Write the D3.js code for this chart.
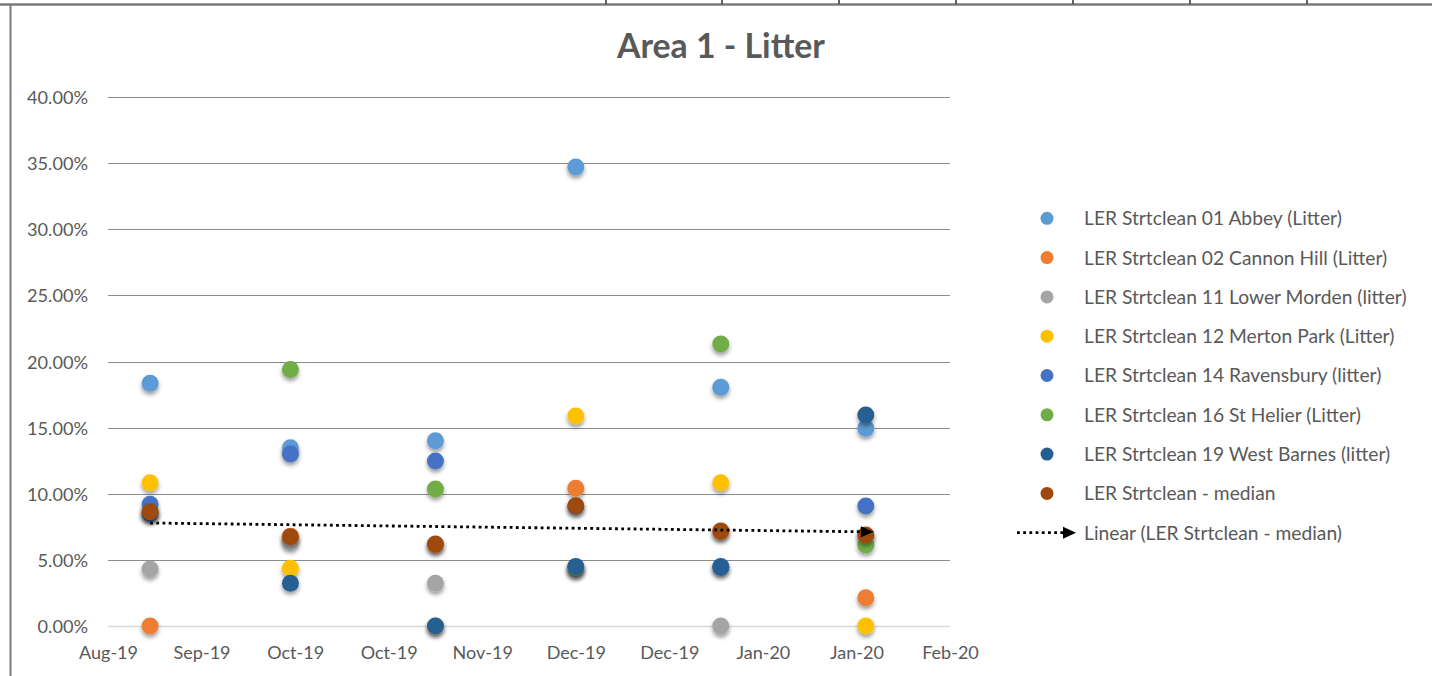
<!DOCTYPE html>
<html><head><meta charset="utf-8">
<script src="https://cdn.jsdelivr.net/npm/d3@7"></script>
<style>
body{margin:0;background:#fff;}
svg{display:block;}
text{font-family:Lato,"Open Sans",sans-serif;}
</style>
</head><body>
<svg id="chart" width="1432" height="676"></svg>
<script>
// ---------------- data ----------------
const dates = ["2019-09-01","2019-10-01","2019-11-01","2019-12-01","2020-01-01","2020-02-01"];
const seriesNames = [
  "LER Strtclean 01 Abbey (Litter)",
  "LER Strtclean 02 Cannon Hill (Litter)",
  "LER Strtclean 11 Lower Morden (litter)",
  "LER Strtclean 12 Merton Park (Litter)",
  "LER Strtclean 14 Ravensbury (litter)",
  "LER Strtclean 16 St Helier (Litter)",
  "LER Strtclean 19 West Barnes (litter)",
  "LER Strtclean - median"
];
const abbey       = [18.35, 13.48, 14.01, 34.70, 18.05, 14.95];
const cannonHill  = [0.00, 6.78, 6.15, 10.41, 7.15, 2.14];
const lowerMorden = [4.31, 6.38, 3.23, 4.30, 0.00, 6.85];
const mertonPark  = [10.84, 4.36, 0.00, 15.88, 10.84, 0.00];
const ravensbury  = [9.20, 13.00, 12.48, 9.05, 4.45, 9.07];
const stHelier    = [8.60, 19.40, 10.36, 4.45, 21.32, 6.12];
const westBarnes  = [8.50, 3.23, 0.00, 4.49, 4.49, 15.95];
const median      = [8.64, 6.75, 6.20, 9.10, 7.18, 6.88];
const trendName = "Linear (LER Strtclean - median)";
const title = "Area 1 - Litter";

const xTickDates = ["2019-08-23","2019-09-12","2019-10-02","2019-10-22","2019-11-11",
                    "2019-12-01","2019-12-21","2020-01-10","2020-01-30","2020-02-19"];
const xTickLabels = ["Aug-19","Sep-19","Oct-19","Oct-19","Nov-19","Dec-19","Dec-19","Jan-20","Jan-20","Feb-20"];
const yTicks = [0,5,10,15,20,25,30,35,40];
const yTickLabels = ["0.00%","5.00%","10.00%","15.00%","20.00%","25.00%","30.00%","35.00%","40.00%"];

const colors = ["#5B9BD5","#ED7D31","#A5A5A5","#FFC000","#4472C4","#70AD47","#255E91","#9E480E"];
const seriesValues = [abbey, cannonHill, lowerMorden, mertonPark, ravensbury, stHelier, westBarnes, median];

// ---------------- setup ----------------
const svg = d3.select("#chart");
const parse = d3.utcParse("%Y-%m-%d");
const xDates = dates.map(parse);
const tickDates = xTickDates.map(parse);

const x = d3.scaleUtc().domain([tickDates[0], tickDates[tickDates.length-1]]).range([108, 950]);
const y = d3.scaleLinear().domain([0, 40]).range([626, 97]);

const textColor = "#595959";

function fitSize(txt, weight, target) {
  const t = svg.append("text").attr("font-size", 100).attr("font-weight", weight).text(txt);
  const w = t.node().getComputedTextLength();
  t.remove();
  return 100 * target / w;
}
const titleSize = fitSize(title, "bold", 208);
const yTickSize = fitSize("40.00%", "normal", 61);
const xTickSize = fitSize("Aug-19", "normal", 59);
const legendSize = fitSize(seriesNames[0], "normal", 258);

// defs: shadow
const defs = svg.append("defs");
const f = defs.append("filter").attr("id","shadow").attr("x","-50%").attr("y","-50%").attr("width","200%").attr("height","220%");
f.append("feDropShadow").attr("dx",0).attr("dy",3).attr("stdDeviation",2).attr("flood-color","#000").attr("flood-opacity",0.4);

// ---------------- frame (spreadsheet edges) ----------------
svg.append("line").attr("x1",0).attr("x2",1432).attr("y1",4.5).attr("y2",4.5)
  .attr("stroke","#7a7a7a").attr("stroke-width",2.5);
[606, 722, 839, 956, 1073, 1190, 1307].forEach(cx => {
  svg.append("line").attr("x1",cx).attr("x2",cx).attr("y1",0).attr("y2",4)
    .attr("stroke","#333").attr("stroke-width",1.5);
});
svg.append("line").attr("x1",10.5).attr("x2",10.5).attr("y1",4).attr("y2",676)
  .attr("stroke","#7a7a7a").attr("stroke-width",2);

// ---------------- title ----------------
svg.append("text").attr("x",721).attr("y",58).attr("text-anchor","middle")
  .attr("font-weight","bold").attr("font-size",titleSize).attr("fill",textColor).text(title);

// ---------------- gridlines + y axis ----------------
const yAxis = d3.axisLeft(y).tickValues(yTicks).tickSize(0).tickPadding(0)
  .tickFormat((d,i) => yTickLabels[i]);
const yg = svg.append("g").attr("transform","translate(88,0)").call(yAxis);
yg.select(".domain").remove();
yg.selectAll("text").attr("font-size", yTickSize).attr("fill", textColor)
  .attr("font-family","Lato,'Open Sans',sans-serif").attr("dy","0.36em").attr("x",0);

svg.append("g").selectAll("line").data(yTicks).join("line")
  .attr("x1", x.range()[0]).attr("x2", x.range()[1])
  .attr("y1", d => Math.round(y(d)) + 0.5).attr("y2", d => Math.round(y(d)) + 0.5)
  .attr("stroke", d => d === 0 ? "#d9d9d9" : "#8c8c8c")
  .attr("stroke-width", d => d === 0 ? 1.5 : 1);

// ---------------- x axis ----------------
const xAxis = d3.axisBottom(x).tickValues(tickDates).tickSize(0).tickPadding(0)
  .tickFormat((d,i) => xTickLabels[i]);
const xg = svg.append("g").attr("transform","translate(0,659)").call(xAxis);
xg.select(".domain").remove();
xg.selectAll("text").attr("font-size", xTickSize).attr("fill", textColor)
  .attr("font-family","Lato,'Open Sans',sans-serif").attr("dy",0).attr("y",0);

// ---------------- points ----------------
const pts = svg.append("g");
seriesValues.forEach((vals, si) => {
  pts.append("g").selectAll("circle").data(vals).join("circle")
    .attr("cx", (d,i) => x(xDates[i])).attr("cy", d => y(d)).attr("r", 8.5)
    .attr("fill", colors[si]).attr("filter","url(#shadow)");
});

// ---------------- linear trendline of median ----------------
const xs = xDates.map(d => (d - xDates[0]) / 864e5);
const mx = d3.mean(xs), my = d3.mean(median);
const slope = d3.sum(xs.map((v,i) => (v-mx)*(median[i]-my))) / d3.sum(xs.map(v => (v-mx)*(v-mx)));
const icpt = my - slope*mx;
const tx0 = x(xDates[0]), ty0 = y(icpt);
const tx1 = x(xDates[xDates.length-1]), ty1 = y(icpt + slope*xs[xs.length-1]);
svg.append("line").attr("x1",tx0).attr("y1",ty0).attr("x2",tx1-4).attr("y2",ty1)
  .attr("stroke","#000").attr("stroke-width",2.8).attr("stroke-dasharray","2.8,3.4");
function arrow(tipX, tipY, len, half) {
  return `M${tipX},${tipY} L${tipX-len},${tipY-half} L${tipX-len},${tipY+half} Z`;
}
svg.append("path").attr("d", arrow(tx1+8, ty1, 13, 5.5)).attr("fill","#000");

// ---------------- legend ----------------
const lg = svg.append("g");
const rowY = i => 218.3 + 39.3*i;
seriesNames.forEach((name, i) => {
  lg.append("circle").attr("cx",1047).attr("cy",rowY(i)).attr("r",6.5).attr("fill",colors[i]);
  lg.append("text").attr("x",1084).attr("y",rowY(i)).attr("dy","0.36em")
    .attr("font-size",legendSize).attr("fill",textColor).text(name);
});
const ty = rowY(8);
lg.append("line").attr("x1",1017).attr("x2",1064).attr("y1",ty).attr("y2",ty)
  .attr("stroke","#000").attr("stroke-width",2.8).attr("stroke-dasharray","2.8,3.4");
lg.append("path").attr("d", arrow(1076, ty, 13, 6)).attr("fill","#000");
lg.append("text").attr("x",1084).attr("y",ty).attr("dy","0.36em")
  .attr("font-size",legendSize).attr("fill",textColor).text(trendName);
</script>
</body></html>
